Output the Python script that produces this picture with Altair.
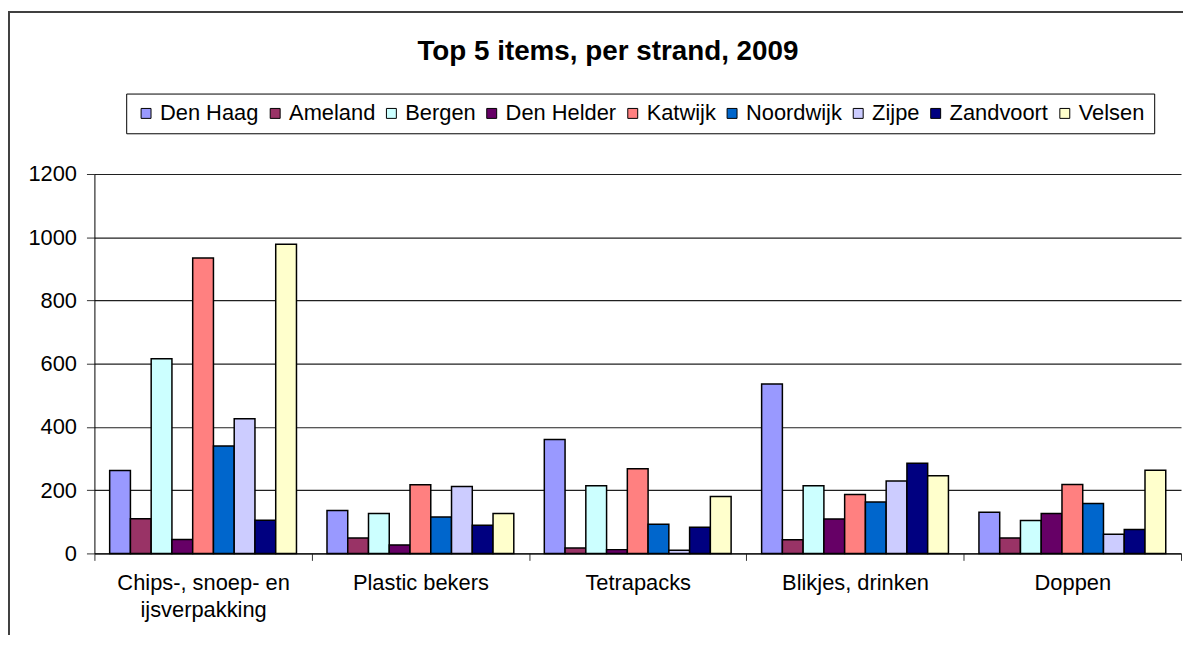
import altair as alt
import pandas as pd

categories = ["Chips-, snoep- en ijsverpakking", "Plastic bekers", "Tetrapacks",
              "Blikjes, drinken", "Doppen"]
strands = ["Den Haag", "Ameland", "Bergen", "Den Helder", "Katwijk",
           "Noordwijk", "Zijpe", "Zandvoort", "Velsen"]
colors = ["#9999FF", "#993366", "#CCFFFF", "#660066", "#FF8080",
          "#0066CC", "#CCCCFF", "#000080", "#FFFFCC"]

den_haag = [262, 136, 360, 536, 130]
ameland = [110, 49, 17, 43, 49]
bergen = [616, 126, 214, 214, 104]
den_helder = [44, 27, 12, 109, 126]
katwijk = [934, 217, 268, 186, 218]
noordwijk = [340, 115, 92, 163, 158]
zijpe = [426, 212, 10, 229, 61]
zandvoort = [105, 89, 83, 285, 76]
velsen = [978, 126, 180, 246, 263]

series = [den_haag, ameland, bergen, den_helder, katwijk,
          noordwijk, zijpe, zandvoort, velsen]

rows = []
for s, vals in zip(strands, series):
    for c, v in zip(categories, vals):
        rows.append({"category": c, "strand": s, "value": v})
df = pd.DataFrame(rows)

FONT = "Liberation Sans"
W, H = 1094, 382

label_expr = ("datum.label == 'Chips-, snoep- en ijsverpakking' ? "
              "['Chips-, snoep- en', 'ijsverpakking'] : datum.label")

bars = alt.Chart(df).mark_bar(stroke="black", strokeWidth=1.5).encode(
    x=alt.X("category:N", sort=categories,
            scale=alt.Scale(paddingInner=0, paddingOuter=0),
            axis=alt.Axis(title=None, labelAngle=0, tickBand="extent",
                          labelExpr=label_expr, labelFont=FONT, labelFontSize=22,
                          labelColor="black", labelLineHeight=28,
                          tickSize=7, labelPadding=12, tickColor="#333",
                          domainColor="black", domainWidth=1, grid=False)),
    xOffset=alt.XOffset("strand:N", sort=strands,
                        scale=alt.Scale(paddingInner=0, paddingOuter=0.735)),
    y=alt.Y("value:Q", scale=alt.Scale(domain=[0, 1200]),
            axis=alt.Axis(title=None, values=[0, 200, 400, 600, 800, 1000, 1200],
                          format="d",
                          labelFont=FONT, labelFontSize=22, labelColor="black",
                          tickSize=8, labelPadding=10, tickColor="#333",
                          domainColor="black", domainWidth=1,
                          grid=True, gridColor="#202020", gridWidth=1.2)),
    color=alt.Color("strand:N", sort=strands,
                    scale=alt.Scale(domain=strands, range=colors),
                    legend=alt.Legend(title=None, orient="none", direction="horizontal",
                                      columns=9, legendX=32, legendY=-81,
                                      symbolType="square", symbolSize=100,
                                      symbolStrokeColor="black", symbolStrokeWidth=1,
                                      labelFont=FONT, labelFontSize=22,
                                      labelColor="black", labelOffset=3,
                                      columnPadding=5, padding=9,
                                      strokeColor="black", fillColor="white")),
)

frame = alt.Chart(pd.DataFrame({"f": [0]})).mark_rect(
    filled=False, stroke="#404040", strokeWidth=2
).encode(
    x=alt.value(-86), x2=alt.value(W + 40),
    y=alt.value(-163), y2=alt.value(H + 200),
)

chart = alt.layer(frame, bars).properties(
    width=W, height=H,
    title=alt.TitleParams("Top 5 items, per strand, 2009", font=FONT, fontSize=28,
                          fontWeight="bold", color="black", anchor="middle",
                          baseline="alphabetic", dx=-30, dy=77, offset=0),
    autosize=alt.AutoSizeParams(type="none"),
    padding={"left": 87, "top": 165, "right": 2, "bottom": 80},
    background="white",
).configure_view(stroke=None)

chart.save("out.html", embed_options={"renderer": "svg", "actions": False})
